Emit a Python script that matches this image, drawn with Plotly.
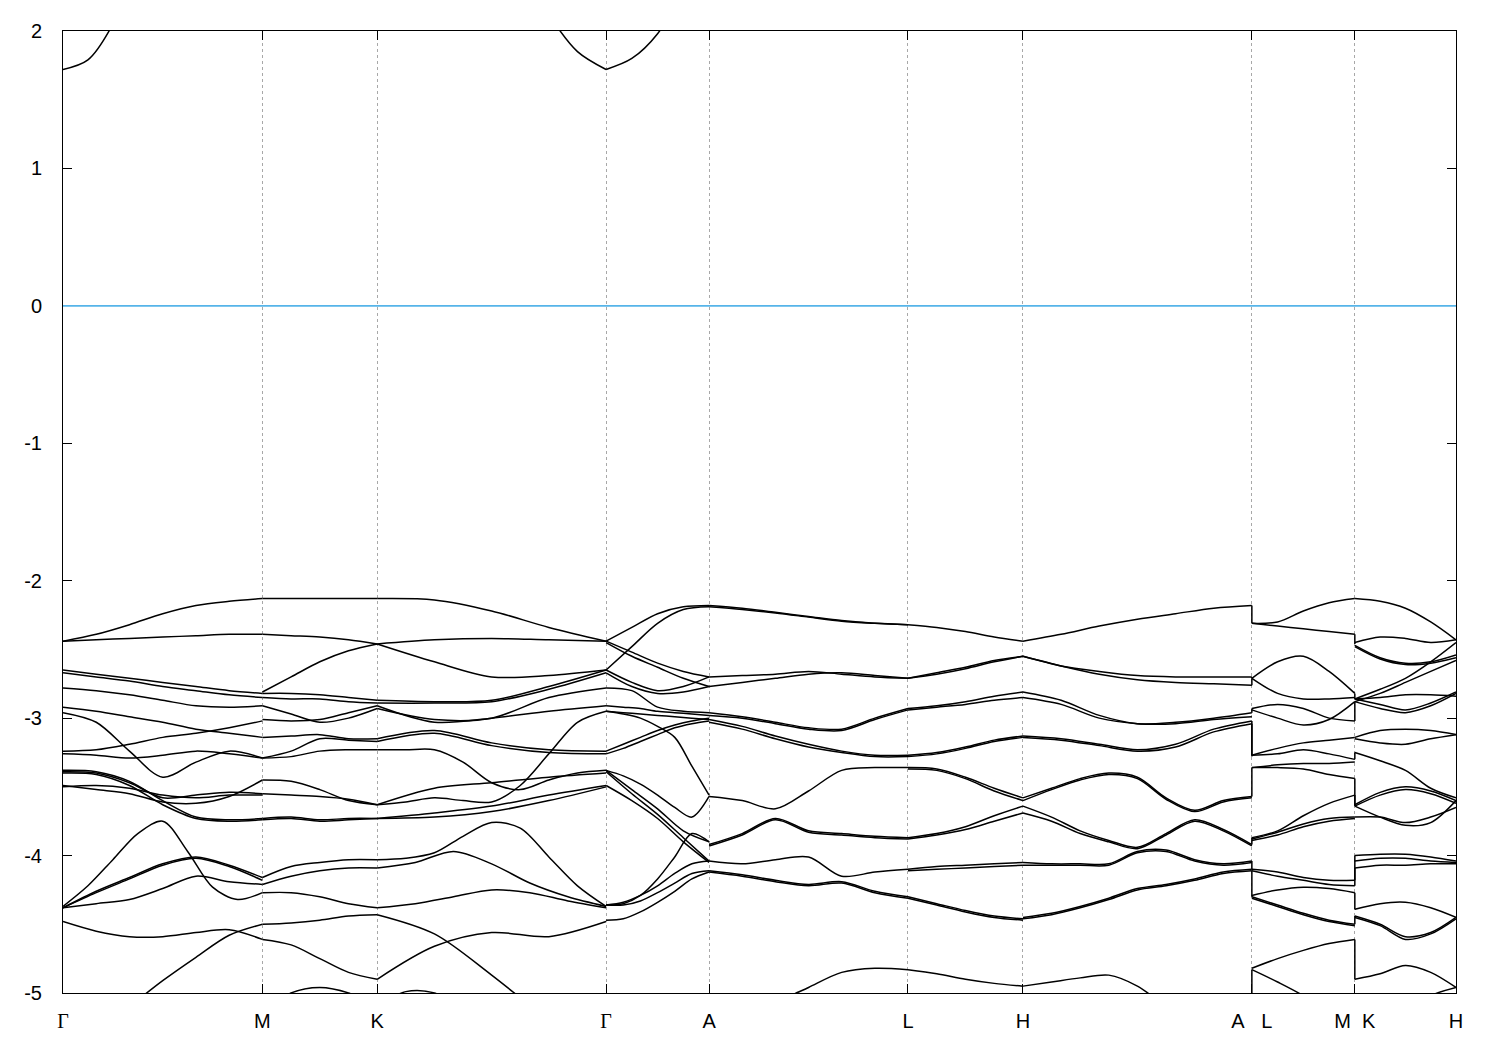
import numpy as np
import plotly.graph_objects as go

# ---- high-symmetry path (k positions) and labels ----
k_nodes = [0.0, 1.0, 1.5754, 2.7233, 3.2396, 4.2371, 4.8135, 5.9614, 6.4777, 6.9850]
k_labels = ['<span style="font-family:Liberation Serif">Γ</span>', 'M', 'K',
            '<span style="font-family:Liberation Serif">Γ</span>', 'A', 'L', 'H',
            'A\u00a0\u00a0\u00a0L', 'M\u00a0\u00a0K', 'H']
e_ticks = [-5, -4, -3, -2, -1, 0, 1, 2]
e_tick_text = ['-5', '-4', '-3', '-2', '-1', '0', '1', '2']
e_fermi = 0.0

# ---- band energies (eV), sampled evenly along each path segment ----
bands_GM = [
    [-2.44, -2.39, -2.32, -2.24, -2.18, -2.15, -2.13],
    [-2.44, -2.43, -2.42, -2.41, -2.40, -2.39, -2.39],
    [-2.65, -2.68, -2.71, -2.74, -2.77, -2.80, -2.82],
    [-2.67, -2.70, -2.73, -2.77, -2.80, -2.83, -2.85],
    [-2.78, -2.80, -2.83, -2.87, -2.91, -2.92, -2.91],
    [-2.92, -2.95, -2.99, -3.03, -3.08, -3.11, -3.14],
    [-2.96, -3.03, -3.24, -3.43, -3.32, -3.24, -3.29],
    [-3.24, -3.23, -3.19, -3.14, -3.11, -3.07, -3.02],
    [-3.26, -3.27, -3.29, -3.27, -3.24, -3.26, -3.29],
    [-3.38, -3.39, -3.46, -3.60, -3.72, -3.74, -3.73],
    [-3.40, -3.41, -3.49, -3.63, -3.73, -3.75, -3.74],
    [-3.39, -3.40, -3.47, -3.58, -3.56, -3.54, -3.55],
    [-3.49, -3.52, -3.55, -3.61, -3.62, -3.57, -3.45],
    [-3.50, -3.49, -3.51, -3.56, -3.58, -3.56, -3.56],
    [-4.37, -4.22, -4.03, -3.84, -3.75, -3.97, -4.23, -4.32, -4.27],
    [-4.38, -4.26, -4.16, -4.06, -4.01, -4.07, -4.16],
    [-4.38, -4.27, -4.17, -4.07, -4.02, -4.08, -4.18],
    [-4.38, -4.35, -4.32, -4.24, -4.15, -4.19, -4.21],
    [-4.48, -4.55, -4.59, -4.59, -4.56, -4.54, -4.61],
    [-5.50, -5.30, -5.10, -4.91, -4.74, -4.58, -4.50],
    [1.72, 1.79, 2.05, 2.50, 3.00, 3.40, 3.60, 3.70, 3.70],
]

bands_MK = [
    [-2.13, -2.13, -2.13, -2.13, -2.13],
    [-2.39, -2.40, -2.41, -2.43, -2.46],
    [-2.81, -2.70, -2.59, -2.51, -2.46],
    [-2.82, -2.82, -2.83, -2.85, -2.87],
    [-2.85, -2.86, -2.86, -2.88, -2.89],
    [-2.91, -2.97, -3.03, -3.00, -2.93],
    [-3.01, -3.02, -3.01, -2.96, -2.91],
    [-3.14, -3.13, -3.12, -3.15, -3.15],
    [-3.29, -3.24, -3.15, -3.16, -3.17],
    [-3.29, -3.28, -3.24, -3.23, -3.23],
    [-3.45, -3.46, -3.52, -3.60, -3.63],
    [-3.55, -3.56, -3.57, -3.59, -3.63],
    [-3.73, -3.72, -3.74, -3.73, -3.73],
    [-3.74, -3.73, -3.75, -3.74, -3.73],
    [-4.16, -4.08, -4.05, -4.03, -4.03],
    [-4.21, -4.15, -4.11, -4.09, -4.09],
    [-4.27, -4.27, -4.30, -4.35, -4.38],
    [-4.50, -4.49, -4.47, -4.44, -4.43],
    [-4.61, -4.65, -4.75, -4.85, -4.90],
    [-5.15, -5.00, -4.96, -5.00, -5.10],
]

bands_KG = [
    [-2.13, -2.14, -2.22, -2.34, -2.44],
    [-2.46, -2.43, -2.42, -2.43, -2.44],
    [-2.46, -2.59, -2.70, -2.69, -2.65],
    [-2.87, -2.88, -2.87, -2.77, -2.65],
    [-2.89, -2.89, -2.88, -2.79, -2.67],
    [-2.93, -3.01, -3.00, -2.85, -2.78],
    [-2.91, -3.03, -3.00, -2.95, -2.91],
    [-3.15, -3.09, -3.18, -3.23, -3.24],
    [-3.17, -3.11, -3.20, -3.25, -3.26],
    [-3.23, -3.23, -3.23, -3.32, -3.47, -3.52, -3.45, -3.40, -3.38],
    [-3.63, -3.61, -3.58, -3.60, -3.61, -3.49, -3.26, -3.03, -2.95],
    [-3.63, -3.51, -3.47, -3.43, -3.40],
    [-3.73, -3.69, -3.64, -3.56, -3.49],
    [-3.73, -3.72, -3.68, -3.60, -3.50],
    [-4.03, -4.02, -3.98, -3.86, -3.76, -3.80, -4.01, -4.22, -4.37],
    [-4.09, -4.05, -3.97, -4.06, -4.20, -4.30, -4.37],
    [-4.38, -4.35, -4.30, -4.25, -4.27, -4.33, -4.38],
    [-4.43, -4.57, -4.87, -5.20, -5.50],
    [-4.90, -4.66, -4.56, -4.59, -4.48],
    [-5.10, -4.99, -5.00, -5.12, -5.30, -5.40, -5.50, -5.50, -5.50],
    [4.00, 3.70, 3.40, 3.10, 2.80, 2.50, 2.12, 1.85, 1.72],
]

bands_GA = [
    [-2.44, -2.34, -2.24, -2.19, -2.18],
    [-2.65, -2.48, -2.31, -2.21, -2.19],
    [-2.44, -2.52, -2.60, -2.66, -2.70],
    [-2.45, -2.55, -2.63, -2.71, -2.77],
    [-2.65, -2.74, -2.80, -2.77, -2.70],
    [-2.67, -2.77, -2.82, -2.81, -2.77],
    [-2.78, -2.80, -2.92, -2.95, -2.96],
    [-2.95, -2.97, -3.00, -3.06, -3.14, -3.35, -3.56],
    [-3.24, -3.19, -3.14, -3.09, -3.05, -3.02, -3.00],
    [-3.26, -3.22, -3.17, -3.12, -3.07, -3.04, -3.02],
    [-2.91, -2.92, -2.93, -2.95, -2.96, -2.97, -2.98],
    [-2.95, -2.96, -2.97, -2.98, -2.99, -3.00, -3.01],
    [-3.38, -3.42, -3.48, -3.56, -3.65, -3.72, -3.57],
    [-3.38, -3.52, -3.66, -3.82, -3.90],
    [-3.39, -3.55, -3.70, -3.87, -4.04],
    [-3.49, -3.60, -3.73, -3.90, -4.05],
    [-4.36, -4.35, -4.29, -4.17, -4.01, -3.84, -3.90],
    [-4.36, -4.34, -4.29, -4.22, -4.13, -4.06, -4.04],
    [-4.36, -4.36, -4.33, -4.27, -4.20, -4.13, -4.11],
    [-4.47, -4.46, -4.41, -4.34, -4.26, -4.17, -4.12],
    [1.72, 1.80, 1.98, 2.30, 2.60],
]

bands_AL = [
    [-2.18, -2.20, -2.23, -2.26, -2.29, -2.31, -2.32],
    [-2.19, -2.21, -2.235, -2.265, -2.295, -2.31, -2.32],
    [-2.70, -2.69, -2.68, -2.66, -2.68, -2.70, -2.71],
    [-2.77, -2.74, -2.71, -2.68, -2.67, -2.69, -2.71],
    [-2.96, -2.99, -3.03, -3.07, -3.08, -3.00, -2.93],
    [-2.98, -3.00, -3.04, -3.08, -3.09, -3.01, -2.94],
    [-3.01, -3.06, -3.13, -3.19, -3.24, -3.27, -3.27],
    [-3.03, -3.08, -3.15, -3.21, -3.25, -3.28, -3.28],
    [-3.57, -3.60, -3.66, -3.53, -3.38, -3.36, -3.36],
    [-3.92, -3.84, -3.73, -3.82, -3.84, -3.86, -3.87],
    [-3.93, -3.85, -3.74, -3.83, -3.85, -3.87, -3.88],
    [-4.04, -4.06, -4.03, -4.01, -4.15, -4.12, -4.10],
    [-4.11, -4.14, -4.18, -4.21, -4.19, -4.26, -4.30],
    [-4.12, -4.15, -4.19, -4.22, -4.20, -4.27, -4.31],
    [-5.50, -5.30, -5.08, -4.96, -4.85, -4.82, -4.83],
]

bands_LH = [
    [-2.32, -2.34, -2.37, -2.41, -2.44],
    [-2.71, -2.67, -2.63, -2.58, -2.55],
    [-2.71, -2.68, -2.64, -2.59, -2.55],
    [-2.93, -2.91, -2.88, -2.84, -2.81],
    [-2.94, -2.92, -2.90, -2.87, -2.85],
    [-3.27, -3.25, -3.21, -3.16, -3.13],
    [-3.28, -3.26, -3.22, -3.17, -3.14],
    [-3.36, -3.37, -3.43, -3.51, -3.58],
    [-3.37, -3.38, -3.44, -3.53, -3.60],
    [-3.87, -3.84, -3.79, -3.71, -3.64],
    [-3.88, -3.85, -3.81, -3.75, -3.69],
    [-4.10, -4.08, -4.07, -4.06, -4.05],
    [-4.11, -4.10, -4.09, -4.08, -4.07],
    [-4.30, -4.35, -4.40, -4.44, -4.46],
    [-4.31, -4.36, -4.41, -4.45, -4.47],
    [-4.83, -4.86, -4.90, -4.93, -4.95],
]

bands_HA = [
    [-2.44, -2.39, -2.33, -2.28, -2.24, -2.20, -2.18],
    [-2.55, -2.62, -2.66, -2.69, -2.70, -2.70, -2.70],
    [-2.55, -2.62, -2.68, -2.72, -2.74, -2.75, -2.76],
    [-2.81, -2.87, -2.98, -3.04, -3.03, -3.00, -2.96],
    [-2.85, -2.90, -3.00, -3.04, -3.04, -3.01, -2.99],
    [-3.13, -3.15, -3.19, -3.23, -3.19, -3.08, -3.02],
    [-3.14, -3.16, -3.20, -3.24, -3.21, -3.10, -3.04],
    [-3.58, -3.51, -3.44, -3.40, -3.43, -3.58, -3.67, -3.60, -3.57],
    [-3.60, -3.52, -3.45, -3.41, -3.44, -3.59, -3.68, -3.61, -3.58],
    [-3.64, -3.72, -3.82, -3.89, -3.94, -3.84, -3.74, -3.81, -3.92],
    [-3.69, -3.75, -3.84, -3.90, -3.95, -3.85, -3.75, -3.82, -3.93],
    [-4.05, -4.06, -4.06, -4.06, -3.97, -3.96, -4.03, -4.06, -4.04],
    [-4.07, -4.07, -4.07, -4.07, -3.98, -3.97, -4.04, -4.07, -4.05],
    [-4.45, -4.42, -4.37, -4.31, -4.24, -4.21, -4.17, -4.12, -4.10],
    [-4.46, -4.43, -4.38, -4.32, -4.25, -4.22, -4.18, -4.13, -4.11],
    [-4.95, -4.92, -4.89, -4.87, -4.95, -5.10, -5.25, -5.40, -5.50],
]

bands_LM = [
    [-2.31, -2.30, -2.22, -2.16, -2.13],
    [-2.31, -2.33, -2.35, -2.37, -2.39],
    [-2.71, -2.59, -2.55, -2.66, -2.82],
    [-2.71, -2.82, -2.86, -2.86, -2.85],
    [-2.93, -2.90, -2.93, -3.00, -3.02],
    [-2.94, -3.00, -3.05, -3.01, -2.88],
    [-3.27, -3.22, -3.18, -3.16, -3.14],
    [-3.27, -3.26, -3.23, -3.26, -3.30],
    [-3.36, -3.36, -3.37, -3.41, -3.44],
    [-3.36, -3.34, -3.33, -3.33, -3.32],
    [-3.87, -3.82, -3.71, -3.62, -3.56],
    [-3.88, -3.83, -3.77, -3.73, -3.72],
    [-3.89, -3.85, -3.79, -3.75, -3.73],
    [-4.10, -4.12, -4.16, -4.18, -4.18],
    [-4.11, -4.15, -4.18, -4.21, -4.22],
    [-4.29, -4.25, -4.23, -4.24, -4.27],
    [-4.30, -4.36, -4.42, -4.47, -4.50],
    [-4.31, -4.37, -4.43, -4.48, -4.51],
    [-4.82, -4.75, -4.69, -4.64, -4.61],
    [-4.83, -4.92, -5.02, -5.15, -5.30],
]

bands_KH = [
    [-2.13, -2.15, -2.20, -2.30, -2.43],
    [-2.45, -2.41, -2.42, -2.45, -2.43],
    [-2.47, -2.56, -2.60, -2.59, -2.54],
    [-2.48, -2.57, -2.61, -2.60, -2.56],
    [-2.86, -2.79, -2.71, -2.59, -2.45],
    [-2.88, -2.82, -2.74, -2.66, -2.58],
    [-2.86, -2.90, -2.94, -2.89, -2.81],
    [-2.88, -2.93, -2.96, -2.91, -2.82],
    [-2.86, -2.85, -2.83, -2.83, -2.84],
    [-3.14, -3.09, -3.08, -3.09, -3.12],
    [-3.15, -3.18, -3.19, -3.15, -3.12],
    [-3.25, -3.31, -3.38, -3.51, -3.58],
    [-3.63, -3.54, -3.50, -3.53, -3.60],
    [-3.64, -3.56, -3.52, -3.55, -3.62],
    [-3.64, -3.72, -3.78, -3.76, -3.60],
    [-3.72, -3.72, -3.76, -3.72, -3.65],
    [-4.00, -3.99, -3.99, -4.01, -4.04],
    [-4.04, -4.02, -4.02, -4.04, -4.05],
    [-4.09, -4.07, -4.07, -4.06, -4.06],
    [-4.39, -4.35, -4.34, -4.38, -4.45],
    [-4.44, -4.50, -4.59, -4.56, -4.45],
    [-4.45, -4.51, -4.61, -4.57, -4.46],
    [-4.90, -4.86, -4.80, -4.85, -4.96],
    [-5.40, -5.30, -5.15, -5.02, -4.96],
]

# energy jumps at the path discontinuities (A|L and M|K): (left value, right value)
jump_AL = [(-2.18, -2.31), (-2.70, -2.71), (-2.76, -2.71), (-2.96, -2.93), (-3.02, -3.27),
           (-3.04, -3.28), (-3.57, -3.36), (-3.92, -3.87), (-4.04, -4.10), (-4.11, -4.30),
           (-5.50, -4.83)]
jump_MK = [(-2.39, -2.46), (-2.82, -2.86), (-2.88, -2.88), (-3.02, -2.88), (-3.30, -3.25),
           (-3.44, -3.63), (-3.56, -3.64), (-4.18, -4.00), (-4.22, -4.09), (-4.27, -4.39),
           (-4.50, -4.44), (-4.61, -4.90), (-5.30, -5.40)]

segments = [(0, 1, bands_GM), (1, 2, bands_MK), (2, 3, bands_KG), (3, 4, bands_GA),
            (4, 5, bands_AL), (5, 6, bands_LH), (6, 7, bands_HA), (7, 8, bands_LM),
            (8, 9, bands_KH)]

xs, ys = [], []
for i0, i1, bands in segments:
    for b in bands:
        kx = np.linspace(k_nodes[i0], k_nodes[i1], len(b))
        xs.extend(kx.tolist()); ys.extend(b)
        xs.append(None); ys.append(None)

jx, jy = [], []
for node, jumps in ((7, jump_AL), (8, jump_MK)):
    for a, b in jumps:
        jx.extend([k_nodes[node], k_nodes[node], None])
        jy.extend([a, b, None])

fig = go.Figure()
fig.add_hline(y=e_fermi, line=dict(color='#56b4e9', width=1.6))
fig.add_trace(go.Scatter(x=xs, y=ys, mode='lines',
                         line=dict(color='black', width=1.5, shape='spline', smoothing=0.9),
                         hoverinfo='skip', showlegend=False))
fig.add_trace(go.Scatter(x=jx, y=jy, mode='lines', line=dict(color='black', width=1.5),
                         hoverinfo='skip', showlegend=False))

font = dict(family='Liberation Sans, Arial, sans-serif', size=20, color='black')
fig.update_layout(
    width=1492, height=1042, autosize=False,
    margin=dict(l=55, r=44, t=20, b=57),
    paper_bgcolor='white', plot_bgcolor='white',
    font=font, showlegend=False,
)
fig.update_xaxes(range=[k_nodes[0], k_nodes[-1]], tickmode='array', tickvals=k_nodes,
                 ticktext=k_labels, showgrid=True, gridcolor='#a8a8a8', griddash='3px,3px',
                 gridwidth=1, showline=True, linecolor='black', linewidth=1, mirror='ticks',
                 ticks='inside', ticklen=9, tickcolor='black', tickwidth=1,
                 ticklabelstandoff=10, zeroline=False, tickfont=font)
fig.update_yaxes(range=[-5, 2], tickmode='array', tickvals=e_ticks, ticktext=e_tick_text,
                 showgrid=False, showline=True, linecolor='black', linewidth=1, mirror='ticks',
                 ticks='inside', ticklen=9, tickcolor='black', tickwidth=1,
                 ticklabelstandoff=16, zeroline=False, tickfont=font)

fig.write_html('out.html')
